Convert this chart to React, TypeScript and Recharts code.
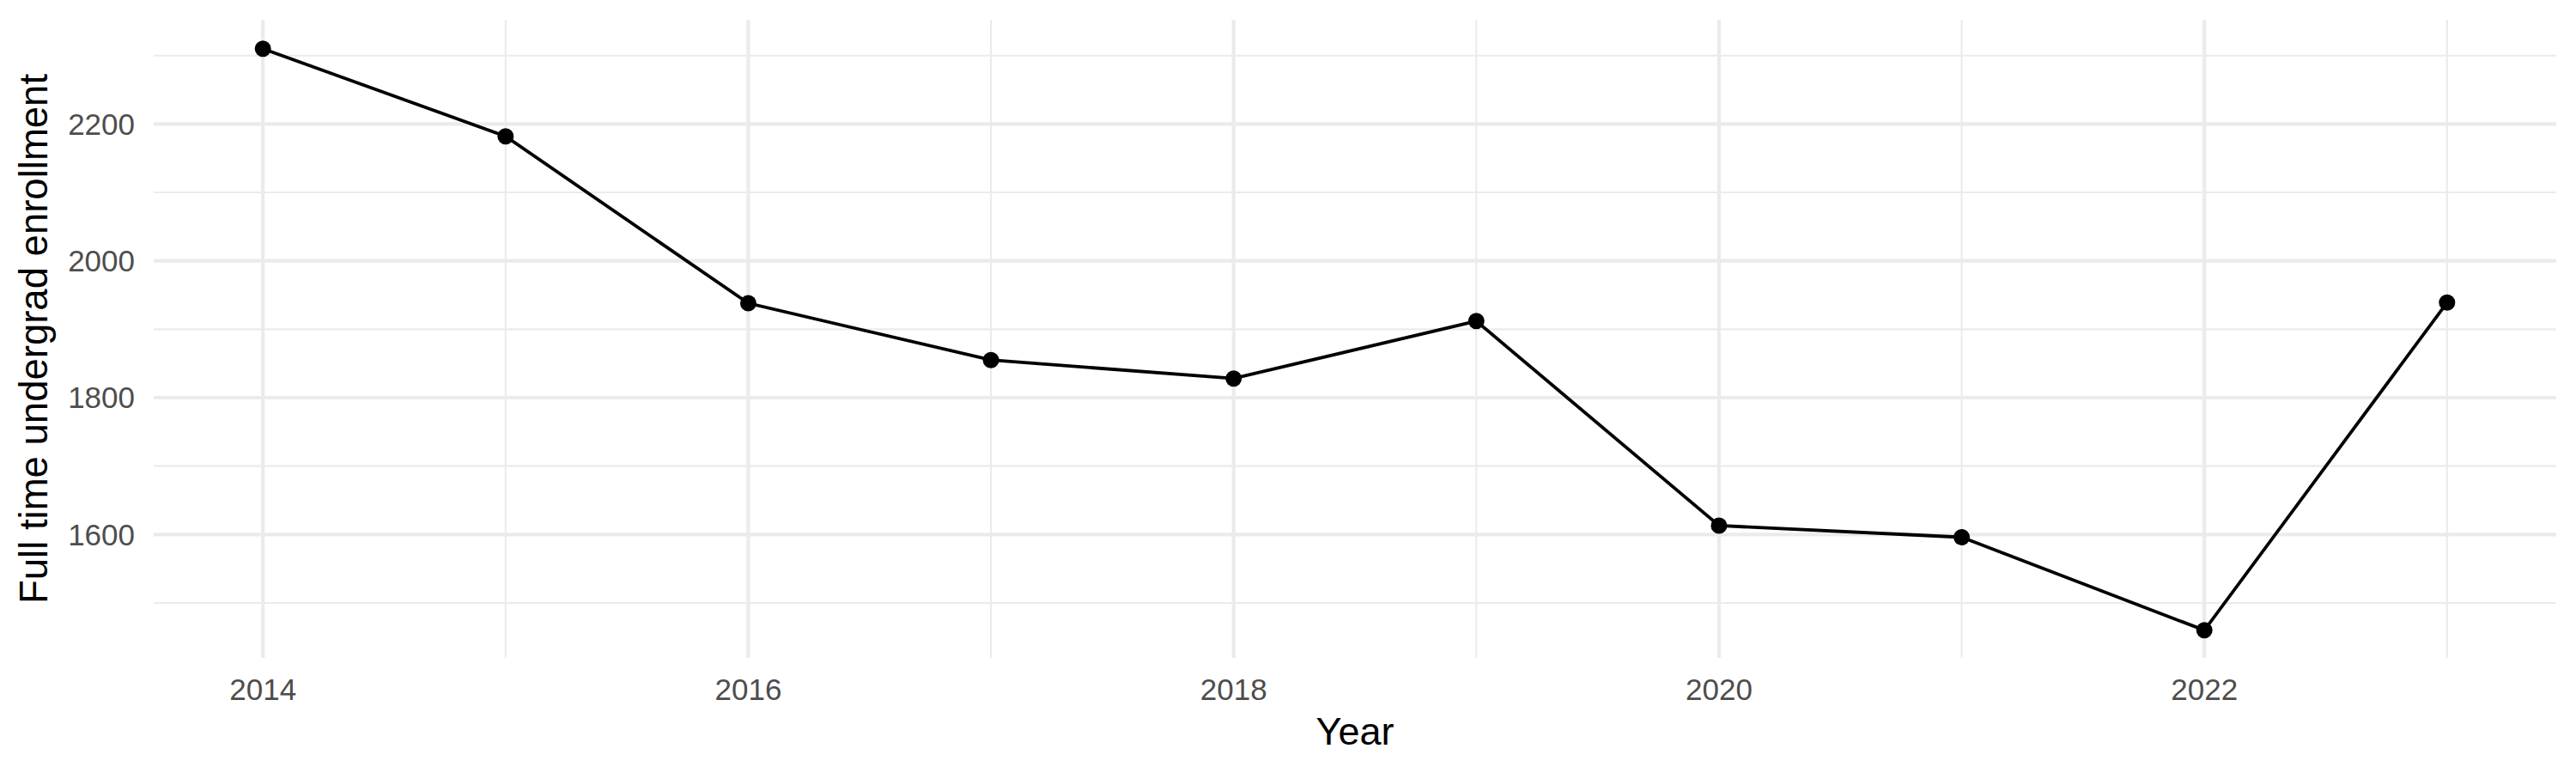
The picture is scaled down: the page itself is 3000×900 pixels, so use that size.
import { LineChart, Line, XAxis, YAxis, ReferenceLine, Label } from "recharts";

const years = [2014, 2015, 2016, 2017, 2018, 2019, 2020, 2021, 2022, 2023];
const enrollment = [2310, 2182, 1938, 1855, 1828, 1912, 1613, 1596, 1460, 1939];

const xTicks = [2014, 2016, 2018, 2020, 2022];
const xMinor = [2015, 2017, 2019, 2021, 2023];
const yTicks = [1600, 1800, 2000, 2200];
const yMinor = [1500, 1700, 1900, 2100, 2300];

const data = years.map((year, i) => ({ year, value: enrollment[i] }));

const FONT = "'Liberation Sans', Arial, Helvetica, sans-serif";
const GRID = "#EBEBEB";

export default function App() {
  return (
    <div style={{ position: "absolute", left: 0, top: 0, width: 3000, height: 900, background: "#fff" }}>
      <LineChart
        width={3000}
        height={900}
        data={data}
        margin={{ top: 23, right: 23, left: 79, bottom: 74 }}
        style={{ fontFamily: FONT }}
      >
        {/* minor grid first, then major on top */}
        {xMinor.map((x) => (
          <ReferenceLine key={"xm" + x} x={x} stroke={GRID} strokeWidth={2.1} />
        ))}
        {yMinor.map((y) => (
          <ReferenceLine key={"ym" + y} y={y} stroke={GRID} strokeWidth={2.1} />
        ))}
        {xTicks.map((x) => (
          <ReferenceLine key={"x" + x} x={x} stroke={GRID} strokeWidth={4.2} />
        ))}
        {yTicks.map((y) => (
          <ReferenceLine key={"y" + y} y={y} stroke={GRID} strokeWidth={4.2} />
        ))}
        <XAxis
          dataKey="year"
          type="number"
          domain={[2013.55, 2023.45]}
          ticks={xTicks}
          height={60}
          axisLine={false}
          tickLine={false}
          tickSize={0}
          tickMargin={24}
          tick={{ fill: "#4D4D4D", fontSize: 35, fontFamily: FONT }}
          allowDataOverflow
        >
          <Label
            content={() => (
              <text x={1578} y={867} textAnchor="middle" fill="#000" fontSize={45} fontFamily={FONT}>
                Year
              </text>
            )}
          />
        </XAxis>
        <YAxis
          type="number"
          domain={[1419.6, 2352.4]}
          ticks={yTicks}
          width={100}
          axisLine={false}
          tickLine={false}
          tickSize={0}
          tickMargin={22}
          tick={{ fill: "#4D4D4D", fontSize: 35, fontFamily: FONT }}
          allowDataOverflow
        >
          <Label
            content={() => (
              <text
                x={55}
                y={394.5}
                transform="rotate(-90 55 394.5)"
                textAnchor="middle"
                fill="#000"
                fontSize={45.5}
                fontFamily={FONT}
              >
                Full time undergrad enrollment
              </text>
            )}
          />
        </YAxis>
        <Line
          type="linear"
          dataKey="value"
          stroke="#000"
          strokeWidth={3.8}
          dot={{ r: 9.5, fill: "#000", stroke: "none" }}
          activeDot={false}
          isAnimationActive={false}
        />
      </LineChart>
    </div>
  );
}
